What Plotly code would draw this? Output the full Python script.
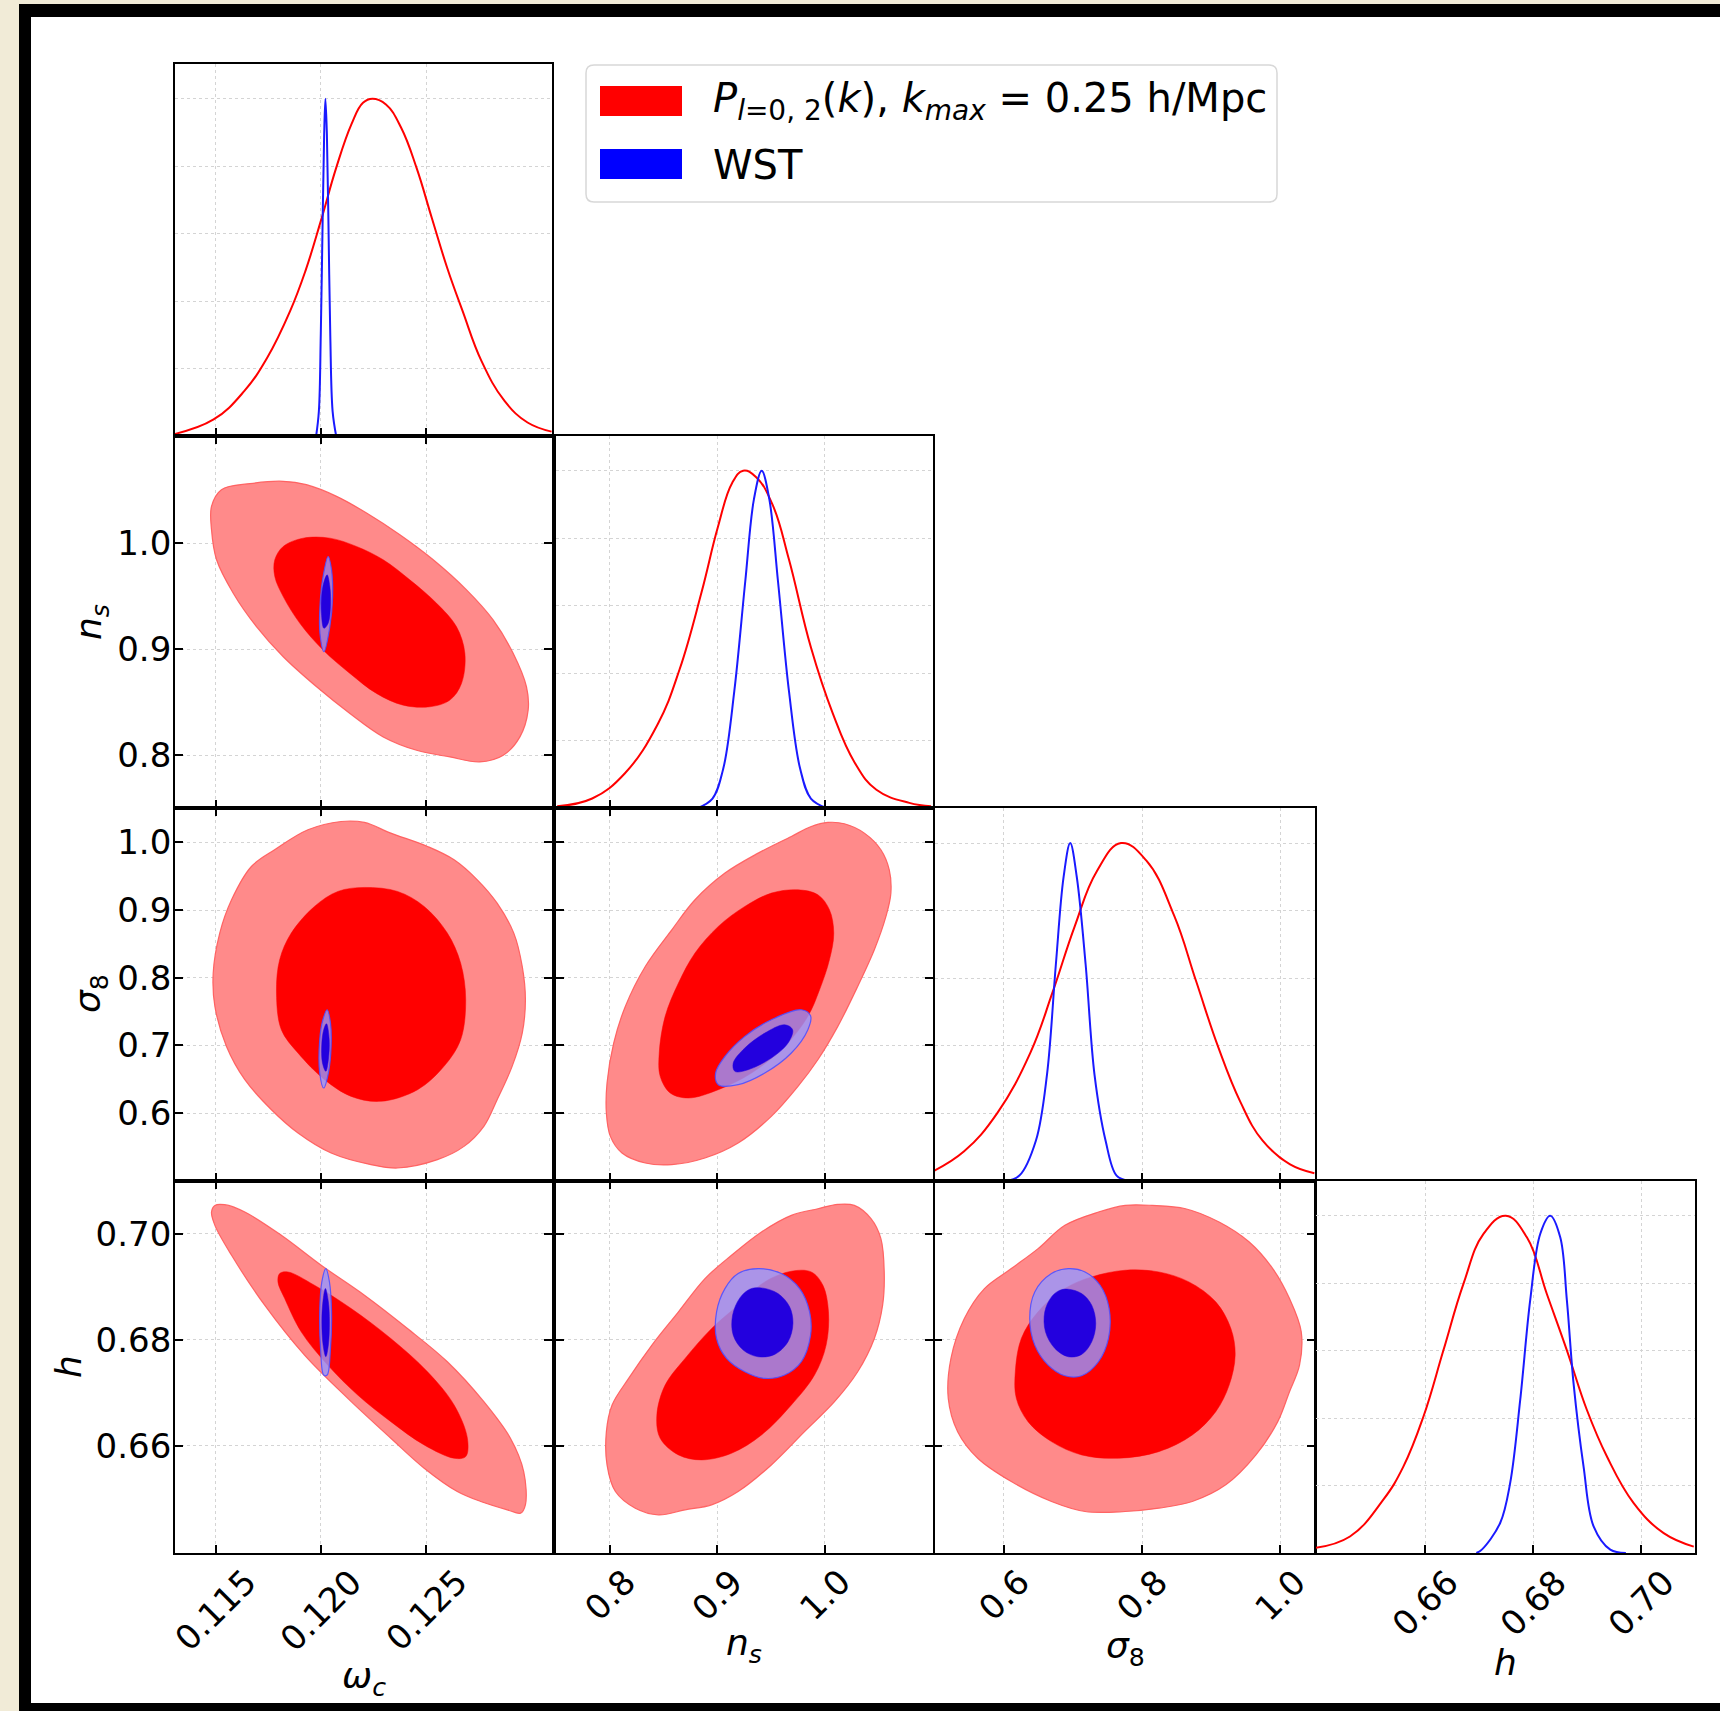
import plotly.graph_objects as go

W, H = 1720, 1711

# ---------------- axes: ranges, ticks, labels ----------------
RANGE_WC = [0.11308, 0.13095]
RANGE_NS = [0.7500, 1.1010]
RANGE_S8 = [0.4995, 1.0505]
RANGE_H = [0.6398, 0.7100]
RANGE_P = [0.0, 1.103]

TICKS_WC = [0.115, 0.120, 0.125]
TICKLABELS_WC = ["0.115", "0.120", "0.125"]
TICKS_NS = [0.8, 0.9, 1.0]
TICKLABELS_NS = ["0.8", "0.9", "1.0"]
TICKS_S8_X = [0.6, 0.8, 1.0]
TICKLABELS_S8_X = ["0.6", "0.8", "1.0"]
TICKS_S8_Y = [0.6, 0.7, 0.8, 0.9, 1.0]
TICKLABELS_S8_Y = ["0.6", "0.7", "0.8", "0.9", "1.0"]
TICKS_H = [0.66, 0.68, 0.70]
TICKLABELS_H = ["0.66", "0.68", "0.70"]
TICKS_P = [0.2, 0.4, 0.6, 0.8, 1.0]

LABEL_WC = "<i>ω</i><sub><i>c</i></sub>"
LABEL_NS = "<i>n</i><sub><i>s</i></sub>"
LABEL_S8 = "<i>σ</i><sub>8</sub>"
LABEL_H = "<i>h</i>"

LEGEND_RED = "<i>P</i><sub><i>l</i>=0, 2</sub>(<i>k</i>), <i>k</i><sub><i>max</i></sub> = 0.25 h/Mpc"
LEGEND_BLUE = "WST"

# ---------------- 1D marginals ----------------
WC_RED_X = [0.11300, 0.11491, 0.11636, 0.11745, 0.11854, 0.11926, 0.11999, 0.12072, 0.12144, 0.12199, 0.12244,
            0.12308, 0.12380, 0.12453, 0.12525, 0.12598, 0.12671, 0.12761, 0.12870, 0.12979, 0.13093]
WC_RED_P = [0.005, 0.049, 0.133, 0.232, 0.371, 0.489, 0.637, 0.795, 0.924, 0.988, 1.000,
            0.983, 0.914, 0.795, 0.647, 0.499, 0.371, 0.222, 0.104, 0.040, 0.013]
WC_BLUE_X = [0.11977, 0.11990, 0.11999, 0.12008, 0.12015, 0.12021, 0.12028, 0.12035, 0.12044, 0.12055, 0.12072]
WC_BLUE_P = [0.0, 0.074, 0.301, 0.647, 0.894, 1.0, 0.894, 0.647, 0.301, 0.074, 0.0]

NS_RED_X = [0.7511, 0.7837, 0.8142, 0.8448, 0.8651, 0.8855, 0.9008, 0.9140, 0.9242, 0.9364, 0.9517, 0.9669,
            0.9873, 1.0076, 1.0280, 1.0483, 1.0789, 1.0992]
NS_RED_P = [0.006, 0.029, 0.104, 0.250, 0.412, 0.640, 0.834, 0.964, 1.0, 0.981, 0.899, 0.737,
            0.477, 0.282, 0.136, 0.055, 0.016, 0.006]
NS_BLUE_X = [0.8814, 0.8957, 0.9059, 0.9160, 0.9262, 0.9343, 0.9415, 0.9486, 0.9567, 0.9669, 0.9771, 0.9873, 1.0025]
NS_BLUE_P = [0.0, 0.029, 0.120, 0.347, 0.672, 0.916, 1.0, 0.916, 0.672, 0.347, 0.120, 0.029, 0.0]

S8_RED_X = [0.4976, 0.5424, 0.5904, 0.6384, 0.6704, 0.7024, 0.7344, 0.7696, 0.8064, 0.8464, 0.8784, 0.9104,
            0.9424, 0.9744, 1.0144, 1.0496]
S8_RED_P = [0.029, 0.088, 0.201, 0.380, 0.558, 0.753, 0.916, 1.0, 0.948, 0.786, 0.591, 0.396,
            0.234, 0.120, 0.049, 0.023]
S8_BLUE_X = [0.6032, 0.6224, 0.6464, 0.6624, 0.6752, 0.6864, 0.6960, 0.7056, 0.7184, 0.7312, 0.7472, 0.7632, 0.7824]
S8_BLUE_P = [0.0, 0.016, 0.120, 0.315, 0.640, 0.899, 1.0, 0.899, 0.640, 0.315, 0.120, 0.016, 0.0]

H_RED_X = [0.63960, 0.64609, 0.65227, 0.65598, 0.65969, 0.66340, 0.66711, 0.67082, 0.67496, 0.67886, 0.68256,
           0.68627, 0.68998, 0.69369, 0.69864, 0.70420, 0.70977]
H_RED_P = [0.015, 0.049, 0.158, 0.256, 0.404, 0.601, 0.798, 0.946, 1.0, 0.936, 0.768,
           0.601, 0.424, 0.286, 0.148, 0.059, 0.019]
H_BLUE_X = [0.66950, 0.67051, 0.67391, 0.67576, 0.67762, 0.67947, 0.68133, 0.68318, 0.68504, 0.68627, 0.68751,
            0.68936, 0.69122, 0.69431, 0.69720]
H_BLUE_P = [0.0, 0.010, 0.089, 0.207, 0.453, 0.749, 0.946, 1.0, 0.936, 0.749, 0.502,
            0.256, 0.079, 0.010, 0.0]

# ---------------- 2D contours (boundary points) ----------------
# omega_c vs n_s
WC_NS_RED95_X = [0.11528, 0.11663, 0.11821, 0.11931, 0.12074, 0.12216, 0.12374, 0.12532, 0.12690, 0.12816, 0.12911,
                 0.12974, 0.12982, 0.12943, 0.12864, 0.12753, 0.12611, 0.12453, 0.12295, 0.12137, 0.11979, 0.11821,
                 0.11694, 0.11584, 0.11505, 0.11481, 0.11481]
WC_NS_RED95_Y = [1.0504, 1.0561, 1.0583, 1.0551, 1.0441, 1.0284, 1.0079, 0.9843, 0.9559, 0.9276, 0.8961,
                 0.8646, 0.8425, 0.8173, 0.8000, 0.7937, 0.7984, 0.8047, 0.8173, 0.8394, 0.8646, 0.8929,
                 0.9213, 0.9528, 0.9843, 1.0126, 1.0347]
WC_NS_RED68_X = [0.11781, 0.11821, 0.11916, 0.12042, 0.12168, 0.12295, 0.12421, 0.12548, 0.12642, 0.12682,
                 0.12666, 0.12611, 0.12516, 0.12390, 0.12263, 0.12137, 0.12010, 0.11900, 0.11821, 0.11781]
WC_NS_RED68_Y = [0.9843, 0.9969, 1.0047, 1.0047, 0.9969, 0.9843, 0.9654, 0.9433, 0.9213, 0.8961,
                 0.8677, 0.8520, 0.8457, 0.8472, 0.8583, 0.8772, 0.8992, 0.9244, 0.9496, 0.9685]
WC_NS_BLUE95_X = [0.12034, 0.12050, 0.12055, 0.12042, 0.12014, 0.11995, 0.11995, 0.12010]
WC_NS_BLUE95_Y = [0.9874, 0.9748, 0.9496, 0.9213, 0.8976, 0.9150, 0.9402, 0.9685]
WC_NS_BLUE68_X = [0.12029, 0.12042, 0.12045, 0.12034, 0.12014, 0.12002, 0.12004, 0.12017]
WC_NS_BLUE68_Y = [0.9701, 0.9591, 0.9402, 0.9244, 0.9197, 0.9339, 0.9528, 0.9654]

# omega_c vs sigma_8
WC_S8_RED95_X = [0.12095, 0.12206, 0.12331, 0.12505, 0.12631, 0.12741, 0.12835, 0.12914, 0.12954, 0.12969,
                 0.12954, 0.12906, 0.12835, 0.12772, 0.12678, 0.12552, 0.12363, 0.12237, 0.12048, 0.11891,
                 0.11765, 0.11639, 0.11552, 0.11497, 0.11489, 0.11520, 0.11576, 0.11670, 0.11780, 0.11938]
WC_S8_RED95_Y = [1.0310, 1.0296, 1.0138, 0.9941, 0.9744, 0.9448, 0.9103, 0.8660, 0.8167, 0.7675,
                 0.7182, 0.6690, 0.6197, 0.5803, 0.5507, 0.5310, 0.5187, 0.5237, 0.5409, 0.5705,
                 0.6049, 0.6493, 0.6985, 0.7576, 0.8069, 0.8660, 0.9153, 0.9645, 0.9892, 1.0187]
WC_S8_RED68_X = [0.12206, 0.12363, 0.12489, 0.12599, 0.12662, 0.12686, 0.12662, 0.12583, 0.12458, 0.12284,
                 0.12143, 0.12017, 0.11891, 0.11812, 0.11789, 0.11804, 0.11859, 0.11969, 0.12080]
WC_S8_RED68_Y = [0.9335, 0.9276, 0.9054, 0.8660, 0.8217, 0.7675, 0.7084, 0.6690, 0.6345, 0.6173,
                 0.6246, 0.6493, 0.6887, 0.7232, 0.7773, 0.8266, 0.8660, 0.9054, 0.9276]
WC_S8_BLUE95_X = [0.12029, 0.12045, 0.12048, 0.12035, 0.12013, 0.11994, 0.11994, 0.12009]
WC_S8_BLUE95_Y = [0.7527, 0.7330, 0.6985, 0.6591, 0.6370, 0.6591, 0.7084, 0.7379]
WC_S8_BLUE68_X = [0.12026, 0.12039, 0.12035, 0.12023, 0.12007, 0.12004, 0.12013]
WC_S8_BLUE68_Y = [0.7320, 0.7084, 0.6788, 0.6616, 0.6739, 0.7034, 0.7232]

# n_s vs sigma_8
NS_S8_RED95_X = [1.0031, 1.0185, 1.0371, 1.0525, 1.0603, 1.0618, 1.0572, 1.0464, 1.0309, 1.0124, 0.9938,
                 0.9753, 0.9505, 0.9196, 0.8887, 0.8578, 0.8331, 0.8114, 0.8006, 0.7969, 0.7975, 0.8037,
                 0.8145, 0.8331, 0.8578, 0.8794, 0.9073, 0.9382, 0.9691, 0.9876]
NS_S8_RED95_Y = [1.0296, 1.0276, 1.0138, 0.9892, 0.9596, 0.9251, 0.8906, 0.8414, 0.7872, 0.7281, 0.6788,
                 0.6394, 0.5951, 0.5557, 0.5335, 0.5237, 0.5261, 0.5409, 0.5655, 0.6000, 0.6443, 0.7034,
                 0.7576, 0.8167, 0.8709, 0.9153, 0.9547, 0.9842, 1.0089, 1.0236]
NS_S8_RED68_X = [0.9753, 0.9938, 1.0046, 1.0086, 1.0046, 0.9954, 0.9845, 0.9629, 0.9320, 0.9011,
                 0.8733, 0.8563, 0.8470, 0.8461, 0.8516, 0.8640, 0.8794, 0.9011, 0.9258, 0.9505]
NS_S8_RED68_Y = [0.9300, 0.9227, 0.9005, 0.8660, 0.8266, 0.7823, 0.7429, 0.6985, 0.6591, 0.6345,
                 0.6222, 0.6296, 0.6542, 0.6887, 0.7429, 0.7921, 0.8365, 0.8759, 0.9054, 0.9251]
NS_S8_BLUE95_X = [0.9784, 0.9870, 0.9845, 0.9691, 0.9444, 0.9196, 0.9011, 0.8986, 0.9073, 0.9258, 0.9505]
NS_S8_BLUE95_Y = [0.7527, 0.7438, 0.7232, 0.6887, 0.6591, 0.6419, 0.6419, 0.6591, 0.6837, 0.7133, 0.7379]
NS_S8_BLUE68_X = [0.9629, 0.9703, 0.9660, 0.9505, 0.9289, 0.9165, 0.9150, 0.9258, 0.9444]
NS_S8_BLUE68_Y = [0.7305, 0.7232, 0.7034, 0.6813, 0.6640, 0.6616, 0.6739, 0.6961, 0.7182]

# omega_c vs h
WC_H_RED95_X = [0.11497, 0.11544, 0.11639, 0.11812, 0.12001, 0.12206, 0.12410, 0.12599, 0.12772, 0.12898,
                0.12961, 0.12969, 0.12946, 0.12883, 0.12757, 0.12646, 0.12489, 0.12331, 0.12127, 0.11922,
                0.11733, 0.11576, 0.11497, 0.11481]
WC_H_RED95_Y = [0.70540, 0.70553, 0.70414, 0.69975, 0.69410, 0.68845, 0.68217, 0.67589, 0.66835, 0.66145,
                0.65517, 0.64889, 0.64732, 0.64795, 0.64952, 0.65140, 0.65580, 0.66145, 0.66898, 0.67714,
                0.68656, 0.69598, 0.70163, 0.70414]
WC_H_RED68_X = [0.11804, 0.11843, 0.11969, 0.12143, 0.12331, 0.12505, 0.12631, 0.12694, 0.12686, 0.12631,
                0.12489, 0.12331, 0.12174, 0.12032, 0.11906, 0.11828, 0.11796]
WC_H_RED68_Y = [0.69253, 0.69284, 0.69033, 0.68594, 0.68028, 0.67400, 0.66773, 0.66145, 0.65799, 0.65768,
                0.66019, 0.66459, 0.66961, 0.67526, 0.68154, 0.68782, 0.69096]
WC_H_BLUE95_X = [0.12023, 0.12040, 0.12050, 0.12045, 0.12029, 0.12013, 0.11998, 0.11994, 0.12004]
WC_H_BLUE95_Y = [0.69347, 0.69096, 0.68531, 0.67840, 0.67338, 0.67338, 0.67840, 0.68531, 0.69096]
WC_H_BLUE68_X = [0.12021, 0.12035, 0.12040, 0.12035, 0.12023, 0.12010, 0.12004, 0.12009]
WC_H_BLUE68_Y = [0.68970, 0.68719, 0.68342, 0.67903, 0.67683, 0.67903, 0.68342, 0.68719]

# n_s vs h
NS_H_RED95_X = [1.0124, 1.0278, 1.0433, 1.0525, 1.0556, 1.0541, 1.0464, 1.0309, 1.0093, 0.9814, 0.9505,
                0.9196, 0.8949, 0.8702, 0.8454, 0.8238, 0.8053, 0.7975, 0.7969, 0.8022, 0.8176, 0.8393,
                0.8640, 0.8887, 0.9134, 0.9413, 0.9691, 0.9938]
NS_H_RED95_Y = [0.70559, 0.70540, 0.70289, 0.69912, 0.69284, 0.68656, 0.68028, 0.67400, 0.66835, 0.66270, 0.65642,
                0.65140, 0.64889, 0.64795, 0.64700, 0.64826, 0.65140, 0.65642, 0.66270, 0.66773, 0.67275, 0.67903,
                0.68531, 0.69159, 0.69598, 0.70038, 0.70352, 0.70477]
NS_H_RED68_X = [0.9691, 0.9876, 0.9985, 1.0037, 1.0015, 0.9907, 0.9691, 0.9413, 0.9134, 0.8856,
                0.8640, 0.8470, 0.8439, 0.8516, 0.8702, 0.8949, 0.9196, 0.9444]
NS_H_RED68_Y = [0.69297, 0.69284, 0.69033, 0.68531, 0.67903, 0.67338, 0.66773, 0.66207, 0.65862, 0.65737,
                0.65831, 0.66145, 0.66584, 0.67149, 0.67652, 0.68217, 0.68656, 0.69096]
NS_H_BLUE95_X = [0.9382, 0.9598, 0.9768, 0.9861, 0.9870, 0.9784, 0.9629, 0.9444, 0.9258, 0.9088, 0.8995,
                 0.8995, 0.9073, 0.9196]
NS_H_BLUE95_Y = [0.69347, 0.69253, 0.68970, 0.68531, 0.68091, 0.67589, 0.67338, 0.67275, 0.67400, 0.67652, 0.68028,
                 0.68531, 0.68970, 0.69253]
NS_H_BLUE68_X = [0.9413, 0.9567, 0.9675, 0.9706, 0.9660, 0.9536, 0.9382, 0.9243, 0.9150, 0.9144, 0.9212, 0.9304]
NS_H_BLUE68_Y = [0.68983, 0.68876, 0.68625, 0.68311, 0.67966, 0.67727, 0.67683, 0.67809, 0.68091, 0.68468,
                 0.68794, 0.68958]

# sigma_8 vs h
S8_H_RED95_X = [0.8146, 0.8631, 0.9116, 0.9553, 0.9893, 1.0136, 1.0306, 1.0281, 1.0136, 0.9966, 0.9650,
                0.9213, 0.8728, 0.8243, 0.7757, 0.7175, 0.6689, 0.6107, 0.5621, 0.5330, 0.5194, 0.5233,
                0.5427, 0.5718, 0.6107, 0.6495, 0.6883, 0.7369, 0.7757]
S8_H_RED95_Y = [0.70540, 0.70477, 0.70226, 0.69849, 0.69347, 0.68782, 0.68154, 0.67526, 0.67024, 0.66459, 0.65831,
                0.65266, 0.64952, 0.64826, 0.64763, 0.64763, 0.64952, 0.65328, 0.65768, 0.66270, 0.66898, 0.67652,
                0.68405, 0.68970, 0.69347, 0.69724, 0.70163, 0.70414, 0.70540]
S8_H_RED68_X = [0.7757, 0.8243, 0.8679, 0.9068, 0.9287, 0.9349, 0.9262, 0.9068, 0.8728, 0.8243,
                0.7660, 0.7126, 0.6689, 0.6349, 0.6180, 0.6165, 0.6252, 0.6495, 0.6883, 0.7272]
S8_H_RED68_Y = [0.69316, 0.69284, 0.69096, 0.68719, 0.68217, 0.67714, 0.67149, 0.66647, 0.66207, 0.65893,
                0.65768, 0.65831, 0.66082, 0.66459, 0.66898, 0.67400, 0.68028, 0.68531, 0.68970, 0.69190]
S8_H_BLUE95_X = [0.6932, 0.7175, 0.7393, 0.7524, 0.7514, 0.7369, 0.7126, 0.6883, 0.6641, 0.6447, 0.6374,
                 0.6447, 0.6689]
S8_H_BLUE95_Y = [0.69347, 0.69284, 0.69033, 0.68593, 0.68028, 0.67589, 0.67325, 0.67325, 0.67526, 0.67903,
                 0.68405, 0.68907, 0.69253]
S8_H_BLUE68_X = [0.6932, 0.7126, 0.7272, 0.7330, 0.7272, 0.7126, 0.6932, 0.6738, 0.6602, 0.6592, 0.6689, 0.6811]
S8_H_BLUE68_Y = [0.68958, 0.68876, 0.68656, 0.68311, 0.67966, 0.67727, 0.67683, 0.67840, 0.68154, 0.68531,
                 0.68813, 0.68939]

# ---------------- styling ----------------
RED_LINE = "#ff0000"
BLUE_LINE = "#1a1aff"
RED95_FILL = "rgb(255,138,138)"
RED95_EDGE = "rgba(255,90,90,0.9)"
RED68_FILL = "rgb(255,0,0)"
BLUE95_FILL = "rgba(150,150,255,0.8)"
BLUE95_EDGE = "rgba(80,80,255,0.9)"
BLUE68_FILL = "rgb(35,0,222)"
FONT = "DejaVu Sans"
TICK_SIZE = 34

# layout geometry in pixels (column / row edges)
COL_PX = [(175, 552), (556, 933), (934.5, 1315), (1316, 1695)]
ROW_PX = [(64, 436), (436, 808.3), (808.3, 1181), (1181, 1553)]


def fx(px):
    return px / W


def fy(py):
    return 1 - py / H


PARAM_RANGE = [RANGE_WC, RANGE_NS, RANGE_S8, RANGE_H]
PARAM_TICKS_X = [TICKS_WC, TICKS_NS, TICKS_S8_X, TICKS_H]
PARAM_TICKLABELS_X = [TICKLABELS_WC, TICKLABELS_NS, TICKLABELS_S8_X, TICKLABELS_H]
PARAM_TICKS_Y = [TICKS_WC, TICKS_NS, TICKS_S8_Y, TICKS_H]
PARAM_TICKLABELS_Y = [TICKLABELS_WC, TICKLABELS_NS, TICKLABELS_S8_Y, TICKLABELS_H]

DIAG = {
    0: ((WC_RED_X, WC_RED_P), (WC_BLUE_X, WC_BLUE_P)),
    1: ((NS_RED_X, NS_RED_P), (NS_BLUE_X, NS_BLUE_P)),
    2: ((S8_RED_X, S8_RED_P), (S8_BLUE_X, S8_BLUE_P)),
    3: ((H_RED_X, H_RED_P), (H_BLUE_X, H_BLUE_P)),
}
OFF = {
    (1, 0): [(WC_NS_RED95_X, WC_NS_RED95_Y), (WC_NS_RED68_X, WC_NS_RED68_Y),
             (WC_NS_BLUE95_X, WC_NS_BLUE95_Y), (WC_NS_BLUE68_X, WC_NS_BLUE68_Y)],
    (2, 0): [(WC_S8_RED95_X, WC_S8_RED95_Y), (WC_S8_RED68_X, WC_S8_RED68_Y),
             (WC_S8_BLUE95_X, WC_S8_BLUE95_Y), (WC_S8_BLUE68_X, WC_S8_BLUE68_Y)],
    (2, 1): [(NS_S8_RED95_X, NS_S8_RED95_Y), (NS_S8_RED68_X, NS_S8_RED68_Y),
             (NS_S8_BLUE95_X, NS_S8_BLUE95_Y), (NS_S8_BLUE68_X, NS_S8_BLUE68_Y)],
    (3, 0): [(WC_H_RED95_X, WC_H_RED95_Y), (WC_H_RED68_X, WC_H_RED68_Y),
             (WC_H_BLUE95_X, WC_H_BLUE95_Y), (WC_H_BLUE68_X, WC_H_BLUE68_Y)],
    (3, 1): [(NS_H_RED95_X, NS_H_RED95_Y), (NS_H_RED68_X, NS_H_RED68_Y),
             (NS_H_BLUE95_X, NS_H_BLUE95_Y), (NS_H_BLUE68_X, NS_H_BLUE68_Y)],
    (3, 2): [(S8_H_RED95_X, S8_H_RED95_Y), (S8_H_RED68_X, S8_H_RED68_Y),
             (S8_H_BLUE95_X, S8_H_BLUE95_Y), (S8_H_BLUE68_X, S8_H_BLUE68_Y)],
}
CONTOUR_STYLE = [(RED95_FILL, RED95_EDGE, 1.2), (RED68_FILL, RED68_FILL, 0.5),
                 (BLUE95_FILL, BLUE95_EDGE, 1.2), (BLUE68_FILL, BLUE68_FILL, 0.5)]

PANELS = [(0, 0), (1, 0), (1, 1), (2, 0), (2, 1), (2, 2), (3, 0), (3, 1), (3, 2), (3, 3)]

fig = go.Figure()
layout = {}
annotations = []

base_axis = dict(showline=True, linecolor="black", linewidth=1.8, ticks="inside", ticklen=8, tickwidth=1.8,
                 tickcolor="black", showgrid=True, gridcolor="#d4d4d4", griddash="dot", gridwidth=1,
                 zeroline=False, tickfont=dict(family=FONT, size=TICK_SIZE, color="black"), fixedrange=True)

for k, (r, c) in enumerate(PANELS, start=1):
    xa = "x" if k == 1 else f"x{k}"
    ya = "y" if k == 1 else f"y{k}"
    xdom = [fx(COL_PX[c][0]), fx(COL_PX[c][1])]
    ydom = [fy(ROW_PX[r][1]), fy(ROW_PX[r][0])]
    xaxis = dict(base_axis, domain=xdom, anchor=ya, range=PARAM_RANGE[c], tickvals=PARAM_TICKS_X[c],
                 showticklabels=False)
    if r == c:
        xaxis["mirror"] = True
        yaxis = dict(base_axis, domain=ydom, anchor=xa, range=RANGE_P, tickvals=TICKS_P, ticks="",
                     showticklabels=False, mirror=True)
        (rx, rp), (bx, bp) = DIAG[c]
        fig.add_trace(go.Scatter(x=rx, y=rp, mode="lines",
                                 line=dict(color=RED_LINE, width=2, shape="spline", smoothing=1.2),
                                 xaxis=xa, yaxis=ya, hoverinfo="skip", showlegend=False))
        fig.add_trace(go.Scatter(x=bx, y=bp, mode="lines",
                                 line=dict(color=BLUE_LINE, width=2, shape="spline", smoothing=1.0),
                                 xaxis=xa, yaxis=ya, hoverinfo="skip", showlegend=False))
    else:
        xaxis["mirror"] = "allticks"
        yaxis = dict(base_axis, domain=ydom, anchor=xa, range=PARAM_RANGE[r], tickvals=PARAM_TICKS_Y[r],
                     ticktext=PARAM_TICKLABELS_Y[r], showticklabels=(c == 0), mirror="allticks",
                     ticklabelstandoff=-5)
        for (cx, cy), (fill, edge, lw) in zip(OFF[(r, c)], CONTOUR_STYLE):
            fig.add_trace(go.Scatter(x=list(cx) + [cx[0]], y=list(cy) + [cy[0]], mode="lines", fill="toself",
                                     fillcolor=fill, line=dict(color=edge, width=lw, shape="spline"),
                                     xaxis=xa, yaxis=ya, hoverinfo="skip", showlegend=False))
    layout["xaxis" if k == 1 else f"xaxis{k}"] = xaxis
    layout["yaxis" if k == 1 else f"yaxis{k}"] = yaxis

    # rotated x tick labels for the bottom row
    if r == 3:
        for tv, tl in zip(PARAM_TICKS_X[c], PARAM_TICKLABELS_X[c]):
            annotations.append(dict(x=tv, y=fy(1559), xref=xa, yref="paper", text=tl, showarrow=False,
                                    textangle=-45, xanchor="center", yanchor="top",
                                    font=dict(family=FONT, size=TICK_SIZE, color="black")))

# axis titles
X_TITLES = [(LABEL_WC, 363.5, 1678), (LABEL_NS, 744, 1645), (LABEL_S8, 1125, 1648), (LABEL_H, 1505, 1662)]
Y_TITLES = [(LABEL_NS, 91, 622), (LABEL_S8, 91, 994), (LABEL_H, 68, 1367)]
for txt, px, py in X_TITLES:
    annotations.append(dict(x=fx(px), y=fy(py), xref="paper", yref="paper", text=txt, showarrow=False,
                            xanchor="center", yanchor="middle", font=dict(family=FONT, size=36, color="black")))
for txt, px, py in Y_TITLES:
    annotations.append(dict(x=fx(px), y=fy(py), xref="paper", yref="paper", text=txt, showarrow=False,
                            textangle=-90, xanchor="center", yanchor="middle",
                            font=dict(family=FONT, size=36, color="black")))

# legend text
annotations.append(dict(x=fx(711), y=fy(101), xref="paper", yref="paper", text=LEGEND_RED, showarrow=False,
                        xanchor="left", yanchor="middle", font=dict(family=FONT, size=40, color="black")))
annotations.append(dict(x=fx(711), y=fy(165), xref="paper", yref="paper", text=LEGEND_BLUE, showarrow=False,
                        xanchor="left", yanchor="middle", font=dict(family=FONT, size=40, color="black")))


def rounded_rect(x0, y0, x1, y1, rad):
    pts = []
    pts.append(f"M{fx(x0 + rad)},{fy(y0)}")
    pts.append(f"L{fx(x1 - rad)},{fy(y0)}")
    pts.append(f"Q{fx(x1)},{fy(y0)} {fx(x1)},{fy(y0 + rad)}")
    pts.append(f"L{fx(x1)},{fy(y1 - rad)}")
    pts.append(f"Q{fx(x1)},{fy(y1)} {fx(x1 - rad)},{fy(y1)}")
    pts.append(f"L{fx(x0 + rad)},{fy(y1)}")
    pts.append(f"Q{fx(x0)},{fy(y1)} {fx(x0)},{fy(y1 - rad)}")
    pts.append(f"L{fx(x0)},{fy(y0 + rad)}")
    pts.append(f"Q{fx(x0)},{fy(y0)} {fx(x0 + rad)},{fy(y0)}")
    return " ".join(pts) + " Z"


shapes = [
    # black frame and white canvas
    dict(type="rect", xref="paper", yref="paper", x0=fx(19), x1=1.01, y0=fy(1712), y1=fy(4),
         fillcolor="black", line=dict(width=0), layer="below"),
    dict(type="rect", xref="paper", yref="paper", x0=fx(31), x1=1.01, y0=fy(1703), y1=fy(17),
         fillcolor="white", line=dict(width=0), layer="below"),
    # legend box and patches
    dict(type="path", xref="paper", yref="paper", path=rounded_rect(586, 65, 1277, 202, 8),
         fillcolor="white", line=dict(color="#d8d8d8", width=1.5)),
    dict(type="rect", xref="paper", yref="paper", x0=fx(600), x1=fx(682), y0=fy(116), y1=fy(86),
         fillcolor="#ff0000", line=dict(width=0)),
    dict(type="rect", xref="paper", yref="paper", x0=fx(600), x1=fx(682), y0=fy(179), y1=fy(149),
         fillcolor="#0000ff", line=dict(width=0)),
]

fig.update_layout(
    width=W, height=H, autosize=False,
    margin=dict(l=0, r=0, t=0, b=0, pad=0),
    paper_bgcolor="#f1ebd7", plot_bgcolor="white",
    showlegend=False,
    font=dict(family=FONT, color="black"),
    annotations=annotations, shapes=shapes,
    **layout,
)

fig.write_html("out.html")
